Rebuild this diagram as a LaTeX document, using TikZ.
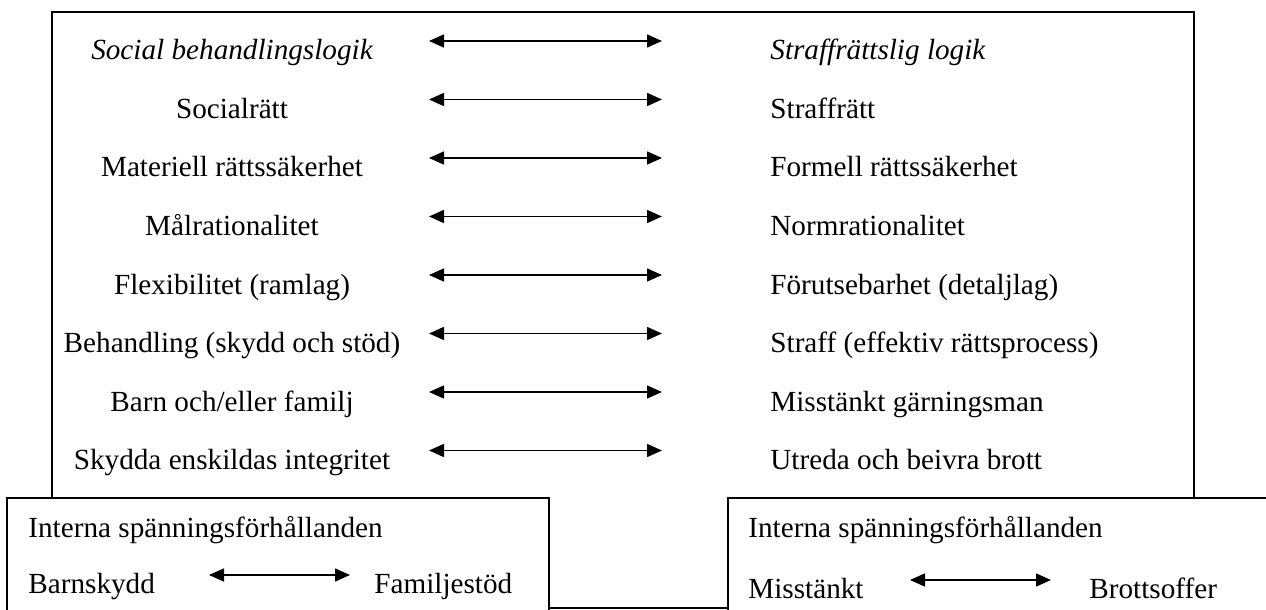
\documentclass[tikz,border=0pt]{standalone}
\usepackage{fontspec}
\setmainfont{Liberation Serif}
\usetikzlibrary{arrows.meta}

\begin{document}
\begin{tikzpicture}[x=0.5pt, y=-0.5pt,
    txt/.style={inner sep=0pt, font=\fontsize{14.6}{17}\selectfont},
    lefttxt/.style={txt, anchor=base},
    righttxt/.style={txt, anchor=base west},
    box/.style={draw=black, line width=1pt, fill=white},
    both/.style={line width=0.8pt, {Triangle[length=7.5pt,width=6.5pt]}-{Triangle[length=7.5pt,width=6.5pt]}}]
    \clip (0,0) rectangle (1266,610);
    % outer frame
    \draw[box] (52,12) rectangle (1194,608);
    % left column
    \node[lefttxt] (soc) at (232,60) {\itshape Social behandlingslogik};
    \node[lefttxt] (l1) at (232,118.5) {Socialrätt};
    \node[lefttxt] (l2) at (232,177) {Materiell rättssäkerhet};
    \node[lefttxt] (l3) at (232,235.5) {Målrationalitet};
    \node[lefttxt] (l4) at (232,294) {Flexibilitet (ramlag)};
    \node[lefttxt] (l5) at (232,352.5) {Behandling (skydd och stöd)};
    \node[lefttxt] (l6) at (232,411) {Barn och/eller familj};
    \node[lefttxt] (l7) at (232,469.5) {Skydda enskildas integritet};
    % right column
    \node[righttxt] (straff) at (770,60) {\itshape Straffrättslig logik};
    \node[righttxt] (r1) at (770,118.5) {Straffrätt};
    \node[righttxt] (r2) at (770,177) {Formell rättssäkerhet};
    \node[righttxt] (r3) at (770,235.5) {Normrationalitet};
    \node[righttxt] (r4) at (770,294) {Förutsebarhet (detaljlag)};
    \node[righttxt] (r5) at (770,352.5) {Straff (effektiv rättsprocess)};
    \node[righttxt] (r6) at (770,411) {Misstänkt gärningsman};
    \node[righttxt] (r7) at (770,469.5) {Utreda och beivra brott};
    % arrows between the columns
    \foreach \i/\y in {0/41,1/99.5,2/158,3/216.5,4/275,5/333.5,6/392,7/450.5} {
        \coordinate (a\i) at (429,\y);
        \coordinate (b\i) at (662,\y);
        \draw[both] (a\i) -- (b\i);
    }
    % internal tensions, left
    \draw[box] (7,498) rectangle (549,660);
    \node[righttxt] (intl) at (28,537) {Interna spänningsförhållanden};
    \node[righttxt] (barn) at (28,593) {Barnskydd};
    \node[righttxt] (fam) at (374,593) {Familjestöd};
    \coordinate (bl) at (209,575);
    \coordinate (br) at (350,575);
    \draw[both] (bl) -- (br);
    % internal tensions, right
    \draw[box] (728,498) rectangle (1300,660);
    \node[righttxt] (intr) at (748,537) {Interna spänningsförhållanden};
    \node[righttxt] (miss) at (748,598) {Misstänkt};
    \node[righttxt] (offer) at (1089,598) {Brottsoffer};
    \coordinate (ml) at (910,580);
    \coordinate (mr) at (1051,580);
    \draw[both] (ml) -- (mr);
\end{tikzpicture}
\end{document}
